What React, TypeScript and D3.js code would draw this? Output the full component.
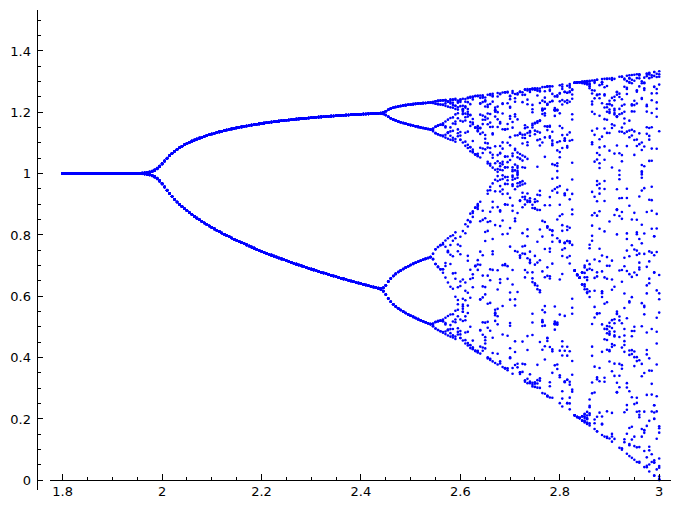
import React, { useMemo } from "react";
import * as d3 from "d3";

// Parameter grid of the map x -> x + r·x·(1 − x)
const R_DOMAIN = [1.8, 3];
const R_STEP = [0.005];
const X0 = [0.3];
const TRANSIENT = [100];
const KEPT = [20];

const X_TICKS = [1.8, 2, 2.2, 2.4, 2.6, 2.8, 3];
const X_TICK_LABELS = ["1.8", "2", "2.2", "2.4", "2.6", "2.8", "3"];
const Y_TICKS = [0, 0.2, 0.4, 0.6, 0.8, 1, 1.2, 1.4];
const Y_TICK_LABELS = ["0", "0.2", "0.4", "0.6", "0.8", "1", "1.2", "1.4"];

const W = 679;
const H = 506;

export default function App() {
  const x = d3.scaleLinear().domain([1.8, 3]).range([62.7, 659.2]);
  const y = d3.scaleLinear().domain([0, 1.4]).range([480, 50.8]);

  const points = useMemo(() => {
    const pts: [number, number][] = [];
    const n = Math.round((R_DOMAIN[1] - R_DOMAIN[0]) / R_STEP[0]);
    for (let i = 0; i <= n; i++) {
      const r = R_DOMAIN[0] + i * R_STEP[0];
      let v = X0[0];
      for (let k = 0; k < TRANSIENT[0]; k++) v = v + r * v * (1 - v);
      for (let k = 0; k < KEPT[0]; k++) {
        v = v + r * v * (1 - v);
        pts.push([r, v]);
      }
    }
    return pts;
  }, []);

  const xMinor = d3.range(1.8, 3.0001, 0.05);
  const yMinor = d3.range(0, 1.5001, 0.05);
  const axisX = 37;
  const axisY = 480;

  return (
    <div style={{ position: "absolute", left: 0, top: 0 }}>
      <svg width={W} height={H} style={{ display: "block", background: "#fff" }}>
        <g fill="#0000ff">
          {points.map((p, i) => (
            <circle key={i} cx={x(p[0])} cy={y(p[1])} r={1.3} />
          ))}
        </g>
        <g stroke="#000" strokeWidth={1} shapeRendering="crispEdges">
          <line x1={axisX} x2={axisX} y1={10} y2={490} />
          <line x1={50} x2={670.5} y1={axisY} y2={axisY} />
          {xMinor.map((t, i) => (
            <line key={"xm" + i} x1={x(t)} x2={x(t)} y1={axisY} y2={axisY - 3} />
          ))}
          {X_TICKS.map((t, i) => (
            <line key={"xM" + i} x1={x(t)} x2={x(t)} y1={axisY} y2={axisY - 6} />
          ))}
          {yMinor.map((t, i) => (
            <line key={"ym" + i} x1={axisX} x2={axisX + 3.5} y1={y(t)} y2={y(t)} />
          ))}
          {Y_TICKS.map((t, i) => (
            <line key={"yM" + i} x1={axisX} x2={axisX + 6} y1={y(t)} y2={y(t)} />
          ))}
        </g>
        <g fontFamily="DejaVu Sans" fontSize={13} fill="#000">
          {X_TICKS.map((t, i) => (
            <text key={"xl" + i} x={x(t)} y={496} textAnchor="middle">
              {X_TICK_LABELS[i]}
            </text>
          ))}
          {Y_TICKS.map((t, i) => (
            <text key={"yl" + i} x={31} y={y(t) + 5} textAnchor="end">
              {Y_TICK_LABELS[i]}
            </text>
          ))}
        </g>
      </svg>
    </div>
  );
}
